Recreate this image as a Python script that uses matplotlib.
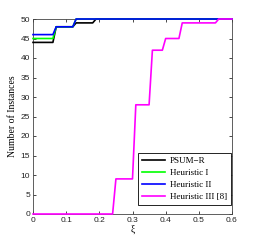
import matplotlib
matplotlib.use("Agg")
import matplotlib.pyplot as plt

# breakpoints of each step curve (xi, number of instances)
psum_x = [0, 0.06, 0.07, 0.12, 0.13, 0.18, 0.19, 0.6]
psum_y = [44, 44, 48, 48, 49, 49, 50, 50]
heur1_x = [0, 0.06, 0.07, 0.12, 0.13, 0.6]
heur1_y = [45, 45, 48, 48, 50, 50]
heur2_x = [0, 0.06, 0.07, 0.12, 0.13, 0.6]
heur2_y = [46, 46, 48, 48, 50, 50]
heur3_x = [0, 0.24, 0.25, 0.30, 0.31, 0.35, 0.36, 0.39, 0.40, 0.44, 0.45, 0.55, 0.56, 0.6]
heur3_y = [0, 0, 9, 9, 28, 28, 42, 42, 45, 45, 49, 49, 50, 50]

labels = ['PSUM\u2212R', 'Heuristic I', 'Heuristic II', 'Heuristic III [8]']
colors = ['black', '#00ff00', '#0000ff', '#ff00ff']

xticks = [0, 0.1, 0.2, 0.3, 0.4, 0.5, 0.6]
yticks = [0, 5, 10, 15, 20, 25, 30, 35, 40, 45, 50]

fig = plt.figure(figsize=(2.56, 2.42), dpi=100)
ax = fig.add_axes([33/256, 1 - 214/242, 199/256, 195/242])

series = [(psum_x, psum_y), (heur1_x, heur1_y), (heur2_x, heur2_y), (heur3_x, heur3_y)]
for (xs, ys), lab, col in zip(series, labels, colors):
    ax.plot(xs, ys, color=col, lw=1.2, label=lab, clip_on=False, zorder=3)

ax.set_xlim(0, 0.6)
ax.set_ylim(0, 50)
ax.set_xticks(xticks)
ax.set_xticklabels(['0', '0.1', '0.2', '0.3', '0.4', '0.5', '0.6'])
ax.set_yticks(yticks)
ax.tick_params(direction='in', length=2.5, width=0.5, top=True, right=True,
               labelsize=6, pad=2, labelcolor='#222222')
for lbl in ax.get_xticklabels() + ax.get_yticklabels():
    lbl.set_family('Liberation Sans')
for sp in ax.spines.values():
    sp.set_linewidth(0.6)
    sp.set_color('#444444')

ax.set_xlabel('\u03be', family='Liberation Serif', fontsize=7, labelpad=1)
ax.set_ylabel('Number of Instances', family='Liberation Serif', fontsize=7, labelpad=3)

leg = ax.legend(loc='lower right', bbox_to_anchor=(1 - 1/199, 9/195),
                prop={'family': 'Liberation Serif', 'size': 6.5},
                fancybox=False, framealpha=1, edgecolor='black',
                handlelength=2.6, borderpad=0.45, labelspacing=0.4,
                borderaxespad=0, handletextpad=0.5)
leg.get_frame().set_linewidth(0.6)

fig.savefig('out.png', dpi=100)
